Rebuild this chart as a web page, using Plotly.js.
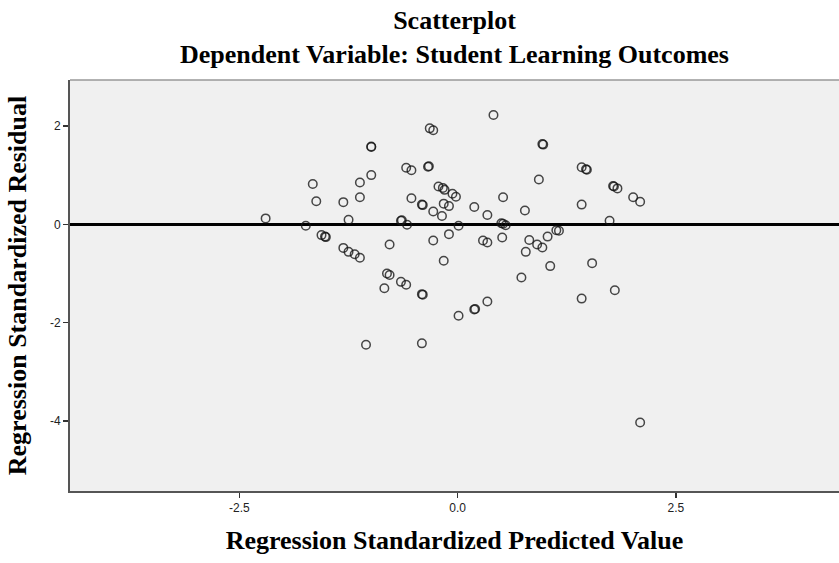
<!DOCTYPE html>
<html>
<head>
<meta charset="utf-8">
<script src="https://cdn.plot.ly/plotly-3.0.1.min.js"></script>
<style>html,body{margin:0;padding:0;background:#fff;}#chart{width:839px;height:563px;}</style>
</head>
<body>
<div id="chart"></div>
<script>
// Regression Standardized Predicted Value
const predicted = [
  -2.20, -1.74, -1.66, -1.62, -1.56, -1.52, -1.51, -1.31, -1.25, -1.31,
  -1.25, -1.18, -1.12, -1.12, -1.12, -0.99, -0.99, -0.99, -0.78, -0.81,
  -0.78, -0.84, -0.65, -0.59, -0.65, -0.64, -0.58, -0.59, -0.53, -0.53,
  -0.41, -0.40, -0.34, -0.33, -0.32, -0.28, -0.28, -0.28, -0.22, -0.17,
  -0.15, -0.16, -0.18, -0.10, -0.10, -0.16, -0.06, -0.02, 0.01, 0.19,
  0.34, 0.29, 0.34, 0.41, 0.52, 0.50, 0.52, 0.55, 0.51, 0.77,
  0.82, 0.78, 0.91, 0.97, 1.03, 1.13, 1.16, 1.06, 0.97, 0.98,
  0.93, 1.42, 1.47, 1.48, 1.42, 1.74, 1.78, 1.79, 1.83, 2.01,
  2.09, 1.54, 0.73, 1.80, 1.42, 2.09, -1.05, -0.41, 0.01, 0.19,
  0.20, 0.34, -0.41, -0.40
];
// Regression Standardized Residual
const residual = [
  0.12, -0.03, 0.82, 0.47, -0.22, -0.25, -0.26, 0.45, 0.09, -0.48,
  -0.56, -0.61, -0.68, 0.85, 0.55, 1.57, 1.58, 1.00, -0.41, -1.00,
  -1.03, -1.30, -1.17, -1.23, 0.07, 0.08, -0.01, 1.15, 1.10, 0.53,
  0.40, 0.39, 1.17, 1.18, 1.95, 1.91, 0.26, -0.33, 0.77, 0.74,
  0.70, 0.42, 0.17, 0.37, -0.20, -0.74, 0.62, 0.56, -0.03, 0.35,
  0.19, -0.33, -0.37, 2.22, 0.55, 0.02, 0.01, -0.02, -0.27, 0.28,
  -0.32, -0.56, -0.41, -0.47, -0.25, -0.12, -0.13, -0.85, 1.63, 1.62,
  0.91, 1.16, 1.12, 1.11, 0.40, 0.07, 0.78, 0.77, 0.73, 0.55,
  0.46, -0.79, -1.08, -1.34, -1.51, -4.03, -2.45, -2.42, -1.86, -1.73,
  -1.72, -1.57, -1.42, -1.43
];
const xTickVals = [-2.5, 0, 2.5];
const xTickText = ["-2.5", "0.0", "2.5"];
const yTickVals = [2, 0, -2, -4];
const yTickText = ["2", "0", "-2", "-4"];

const serif = '"Liberation Serif", "Times New Roman", serif';
const sans = '"Liberation Sans", Arial, sans-serif';

const trace = {
  type: 'scatter',
  mode: 'markers',
  x: predicted,
  y: residual,
  marker: {
    symbol: 'circle-open',
    size: 8.5,
    color: 'rgba(20,20,20,0.78)',
    line: {width: 1.5, color: 'rgba(20,20,20,0.78)'}
  },
  hoverinfo: 'x+y',
  showlegend: false
};

const layout = {
  width: 839,
  height: 563,
  margin: {l: 70, r: 0, t: 80, b: 72},
  paper_bgcolor: '#ffffff',
  plot_bgcolor: '#f0f0f0',
  title: {
    text: '<b>Scatterplot</b><br><b>Dependent Variable: Student Learning Outcomes</b>',
    font: {family: serif, size: 26, color: '#000'},
    x: 0.5, xref: 'paper',
    y: 0.948, yref: 'container', yanchor: 'top'
  },
  xaxis: {
    range: [-4.441, 4.368],
    tickmode: 'array',
    tickvals: xTickVals,
    ticktext: xTickText,
    ticks: 'outside',
    ticklen: 5,
    tickwidth: 1.5,
    tickcolor: '#333',
    tickfont: {family: sans, size: 12, color: '#222'},
    showgrid: false,
    zeroline: false,
    showline: true,
    linecolor: '#555',
    linewidth: 2,
    title: {
      text: '<b>Regression Standardized Predicted Value</b>',
      font: {family: serif, size: 26, color: '#000'},
      standoff: 16
    }
  },
  yaxis: {
    range: [-5.421, 2.933],
    tickmode: 'array',
    tickvals: yTickVals,
    ticktext: yTickText,
    ticks: 'outside',
    ticklen: 5,
    tickwidth: 1.5,
    tickcolor: '#333',
    tickfont: {family: sans, size: 12, color: '#222'},
    showgrid: false,
    zeroline: true,
    zerolinecolor: '#000',
    zerolinewidth: 2.5,
    showline: true,
    linecolor: '#555',
    linewidth: 2,
    title: {
      text: '<b>Regression Standardized Residual</b>',
      font: {family: serif, size: 26, color: '#000'},
      standoff: 16
    }
  },
  shapes: [{
    type: 'line', xref: 'paper', yref: 'paper',
    x0: 0, x1: 1, y0: 1, y1: 1,
    line: {color: '#999', width: 1.5}
  }]
};

Plotly.newPlot('chart', [trace], layout, {displayModeBar: false, staticPlot: true});
</script>
</body>
</html>
